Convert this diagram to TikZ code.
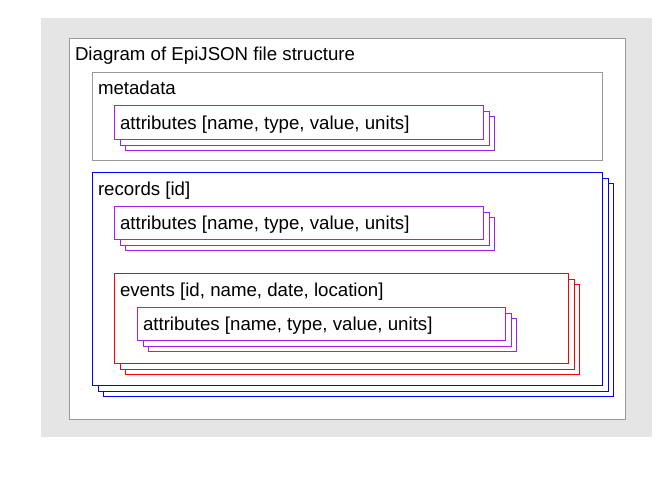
\documentclass[tikz,border=0pt]{standalone}
\usepackage{fontspec}
\setmainfont{Liberation Sans}
\usetikzlibrary{positioning}
\definecolor{panelgray}{RGB}{229,229,229}
\definecolor{framegray}{RGB}{153,153,153}
\definecolor{attrpurple}{RGB}{160,32,240}
% a box drawn three times, each copy shifted down and right
% #1 name, #2 colour, #3/#4 top left corner, #5/#6 bottom right corner
\newcommand*\stackedbox[6]{%
    \foreach \off in {11,6,0}{%
        \draw[draw=#2,fill=white] (#3+\off,#4+\off) rectangle (#5+\off,#6+\off);%
    } % \foreach \off
    \coordinate (#1-nw) at (#3,#4);%
    \coordinate (#1-se) at (#5,#6);%
}

\begin{document}
\begin{tikzpicture}
    [%
        x=0.75pt,y=-0.75pt,%
        line width=0.75pt,%
        every node/.style={%
            inner sep=0pt,%
            font=\fontsize{14}{16.8}\selectfont%
        },%
        box label/.style={%
            anchor=base west%
        },%
        plain box/.style={%
            draw=framegray,%
            fill=white%
        }%
    ]%
%
    \useasboundingbox (0,0) rectangle (672,480);
    \fill[panelgray] (41,18) rectangle (652,437);
% outer frame and title
    \draw[plain box] (69.5,38.5) rectangle (625.5,419.5);
    \coordinate (diagram-nw) at (69.5,38.5);
    \node[box label] (diagram-title) at (74.5,60.7) {Diagram of EpiJSON file structure};
% metadata
    \draw[plain box] (92.5,72.5) rectangle (602.5,160.5);
    \coordinate (metadata-nw) at (92.5,72.5);
    \node[box label] (metadata-title) at (97.5,94.7) {metadata};
    \stackedbox{meta-attr}{attrpurple}{114.5}{105.5}{483.5}{139.5}
    \node[box label] (meta-attr-title) at (119.5,129) {attributes [name, type, value, units]};
% records
    \stackedbox{records}{blue}{92.5}{172.5}{602.5}{385.5}
    \node[box label] (records-title) at (97.5,195) {records [id]};
    \stackedbox{rec-attr}{attrpurple}{114.5}{206.5}{483.5}{239.5}
    \node[box label] (rec-attr-title) at (119.5,229.5) {attributes [name, type, value, units]};
% events inside records
    \stackedbox{events}{red}{114.5}{273.5}{568.5}{363.5}
    \node[box label] (events-title) at (119.5,296) {events [id, name, date, location]};
    \stackedbox{ev-attr}{attrpurple}{137.5}{307.5}{505.5}{340.5}
    \node[box label] (ev-attr-title) at (142.5,330.4) {attributes [name, type, value, units]};
\end{tikzpicture}
\end{document}
